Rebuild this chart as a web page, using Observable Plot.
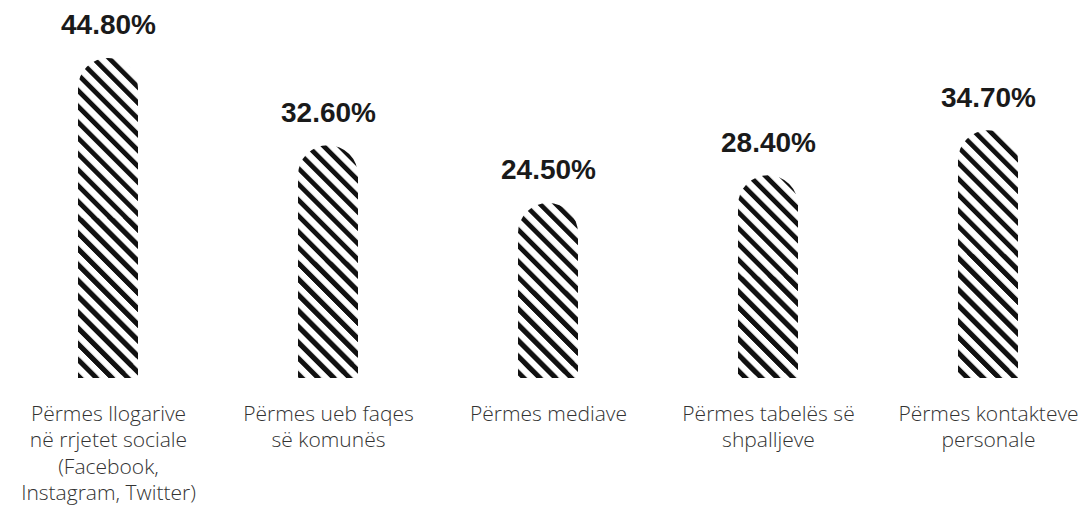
<!DOCTYPE html>
<html>
<head>
<meta charset="utf-8">
<script src="https://cdn.jsdelivr.net/npm/d3@7"></script>
<script src="https://cdn.jsdelivr.net/npm/@observablehq/plot@0.6"></script>
<style>
  html, body { margin: 0; padding: 0; background: #fff; }
  #chart svg { display: block; }
</style>
</head>
<body>
<div id="chart"></div>
<script>
const categories = [
  "Përmes llogarive\nnë rrjetet sociale\n(Facebook,\nInstagram, Twitter)",
  "Përmes ueb faqes\nsë komunës",
  "Përmes mediave",
  "Përmes tabelës së\nshpalljeve",
  "Përmes kontakteve\npersonale"
];
const values = [44.8, 32.6, 24.5, 28.4, 34.7];
const valueLabels = ["44.80%", "32.60%", "24.50%", "28.40%", "34.70%"];

const data = categories.map((c, i) => ({category: c, value: values[i], label: valueLabels[i]}));
const hatch = "url(#hatch)";

const chart = Plot.plot({
  width: 1086,
  height: 511,
  marginTop: 58,
  marginBottom: 133,
  marginLeft: 10,
  marginRight: 0,
  x: {domain: categories, paddingInner: 0.727, paddingOuter: 0.305, axis: null},
  y: {domain: [0, 44.8], axis: null},
  marks: [
    Plot.barY(data, {x: "category", y: "value", fill: hatch, rx: 30}),
    Plot.barY(data, {x: "category", y1: 0, y2: d => d.value / 2, fill: hatch}),
    Plot.text(data, {
      x: "category", y: "value", text: "label", dy: -33,
      fontSize: 28, fontWeight: "bold", fill: "#1a1a1a",
      fontFamily: "'Liberation Sans', Arial, sans-serif"
    }),
    Plot.text(data, {
      x: "category", y: 0, text: "category", dy: 24, lineAnchor: "top",
      lineHeight: 1.25, fontSize: 21, fontWeight: 300, fill: "#333",
      fontFamily: "'Open Sans', sans-serif"
    })
  ]
});

const svgNS = "http://www.w3.org/2000/svg";
const defs = document.createElementNS(svgNS, "defs");
defs.innerHTML = `<pattern id="hatch" patternUnits="userSpaceOnUse" width="11.2" height="11.2" patternTransform="rotate(-45)">
  <rect x="0" y="0" width="4.8" height="11.2" fill="#111"></rect>
</pattern>`;
chart.insertBefore(defs, chart.firstChild);
document.getElementById("chart").appendChild(chart);
</script>
</body>
</html>
